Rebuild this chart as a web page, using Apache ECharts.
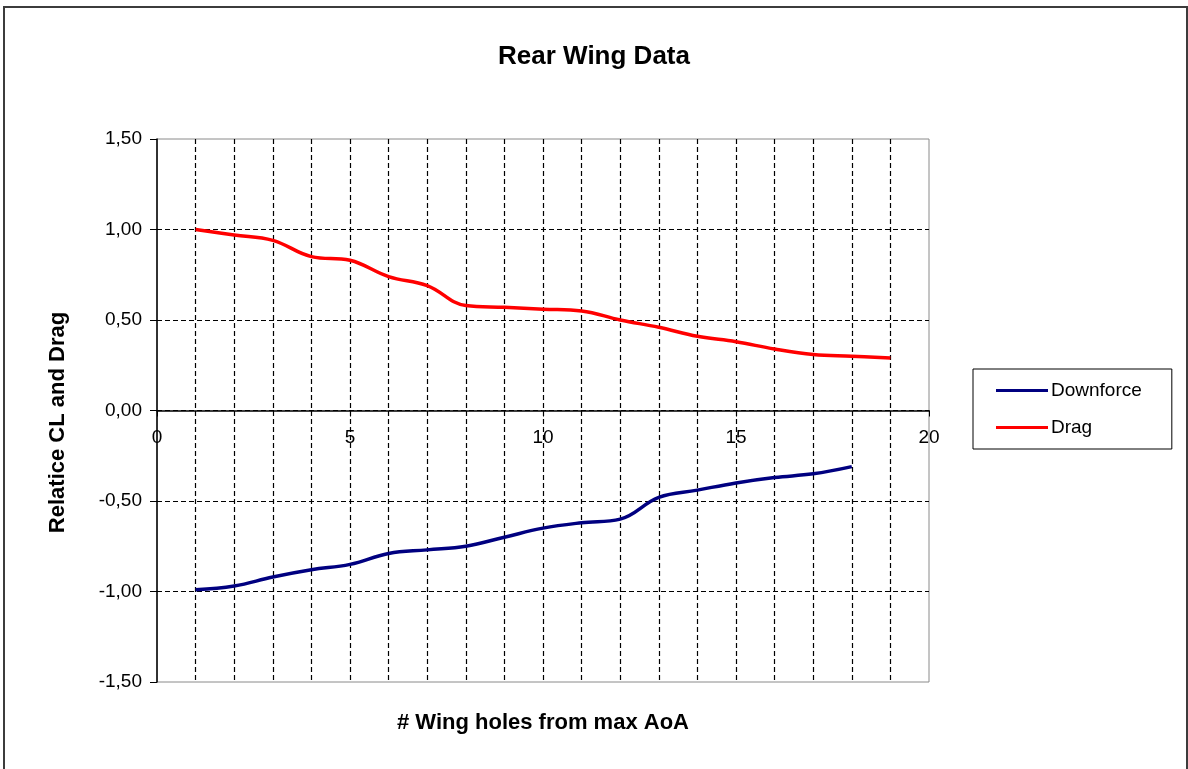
<!DOCTYPE html>
<html>
<head>
<meta charset="utf-8">
<title>Rear Wing Data</title>
<script src="https://cdn.jsdelivr.net/npm/echarts@6/dist/echarts.min.js"></script>
<style>
  html, body { margin: 0; padding: 0; background: #fff; }
  #chart { width: 1188px; height: 769px; }
</style>
</head>
<body>
<div id="chart"></div>
<script>
// Wing hole positions counted from the maximum angle of attack
const dragHoles = [1, 2, 3, 4, 5, 6, 7, 8, 9, 10, 11, 12, 13, 14, 15, 16, 17, 18, 19];
const downforceHoles = [1, 2, 3, 4, 5, 6, 7, 8, 9, 10, 11, 12, 13, 14, 15, 16, 17, 18];

// Relative coefficients
const drag = [1.00, 0.97, 0.94, 0.85, 0.83, 0.74, 0.69, 0.58, 0.57, 0.56,
              0.55, 0.50, 0.46, 0.41, 0.38, 0.34, 0.31, 0.30, 0.29];
const downforce = [-0.99, -0.97, -0.92, -0.88, -0.85, -0.79, -0.77, -0.75, -0.70, -0.65,
                   -0.62, -0.60, -0.48, -0.44, -0.40, -0.37, -0.35, -0.31];

// Axis ranges
const xRange = { min: 0, max: 20, step: 5 };
const yRange = { min: -1.5, max: 1.5, step: 0.5 };

const pairs = (xs, ys) => xs.map((x, i) => [x, ys[i]]);
const FONT = 'Liberation Sans, Arial, sans-serif';

// Plot area box
const GRID = { left: 157, right: 259, top: 139, bottom: 87 };
const plotHeight = 769 - GRID.top - GRID.bottom;
// The category axis crosses the value axis at y = 0, i.e. the middle of the symmetric range
const zeroOffset = -plotHeight * (0 - yRange.min) / (yRange.max - yRange.min);

const chart = echarts.init(document.getElementById('chart'));
chart.setOption({
  backgroundColor: '#ffffff',
  animation: false,
  textStyle: { fontFamily: FONT },
  graphic: [{
    type: 'rect',
    shape: { x: 4, y: 7, width: 1183, height: 800 },
    style: { fill: 'none', stroke: '#3c3c3c', lineWidth: 2 },
    silent: true
  }],
  title: {
    text: 'Rear Wing Data',
    left: 'center',
    top: 39,
    textStyle: { fontFamily: FONT, fontSize: 26, fontWeight: 'bold', color: '#000' }
  },
  legend: {
    orient: 'vertical',
    left: 973,
    top: 369,
    padding: [12, 30, 12, 23],
    itemGap: 18,
    itemWidth: 52,
    itemHeight: 3,
    icon: 'rect',
    borderColor: '#000',
    borderWidth: 1,
    textStyle: { fontFamily: FONT, fontSize: 19, color: '#000', padding: [0, 0, 0, -2] },
    data: ['Downforce', 'Drag']
  },
  grid: {
    left: GRID.left, right: GRID.right, top: GRID.top, bottom: GRID.bottom,
    outerBoundsMode: 'none',
    containLabel: false,
    show: true,
    borderColor: '#8a8a8a',
    borderWidth: 1
  },
  xAxis: {
    type: 'value',
    position: 'bottom',
    offset: zeroOffset,
    min: xRange.min, max: xRange.max, interval: xRange.step,
    name: '# Wing holes from max AoA',
    nameLocation: 'middle',
    nameGap: 301,
    nameTextStyle: { fontFamily: FONT, fontSize: 22, fontWeight: 'bold', color: '#000' },
    axisLine: { onZero: false, lineStyle: { color: '#000', width: 1.5 } },
    axisTick: { show: true, inside: false, length: 6, lineStyle: { color: '#000' } },
    axisLabel: {
      margin: 18, fontFamily: FONT, fontSize: 19, color: '#000',
      formatter: v => String(v)
    },
    splitLine: { show: true, showMinLine: false, showMaxLine: false, lineStyle: { color: '#000', type: [5, 3], width: 1.2 } },
    minorTick: { show: false, splitNumber: 5 },
    minorSplitLine: { show: true, lineStyle: { color: '#000', type: [5, 3], width: 1.2 } }
  },
  yAxis: {
    type: 'value',
    min: yRange.min, max: yRange.max, interval: yRange.step,
    name: 'Relatice CL and Drag',
    nameLocation: 'middle',
    nameGap: 88,
    nameRotate: 90,
    nameTextStyle: { fontFamily: FONT, fontSize: 22, fontWeight: 'bold', color: '#000', padding: [0, 0, 0, -24] },
    axisLine: { show: true, onZero: false, lineStyle: { color: '#000', width: 1.5 } },
    axisTick: { show: true, inside: false, length: 7, lineStyle: { color: '#000' } },
    axisLabel: {
      margin: 15, fontFamily: FONT, fontSize: 19, color: '#000',
      formatter: v => v.toFixed(2).replace('.', ',')
    },
    splitLine: { show: true, showMinLine: false, showMaxLine: false, lineStyle: { color: '#000', type: [5, 3], width: 1.2 } }
  },
  series: [
    {
      name: 'Downforce',
      type: 'line',
      data: pairs(downforceHoles, downforce),
      smooth: 0.4,
      showSymbol: false,
      color: '#000080',
      lineStyle: { width: 3.5, color: '#000080' },
      z: 5
    },
    {
      name: 'Drag',
      type: 'line',
      data: pairs(dragHoles, drag),
      smooth: 0.4,
      showSymbol: false,
      color: '#ff0000',
      lineStyle: { width: 3.5, color: '#ff0000' },
      z: 5
    }
  ]
});
</script>
</body>
</html>
